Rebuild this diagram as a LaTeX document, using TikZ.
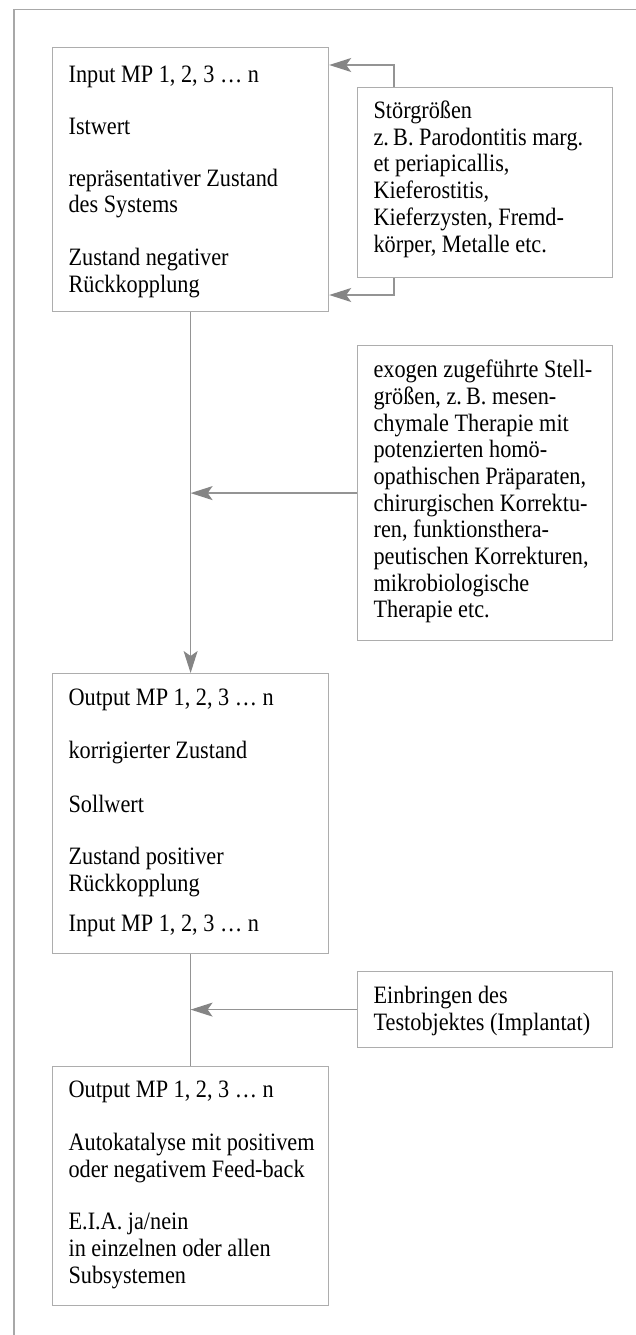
\documentclass[tikz,border=0pt]{standalone}
\usepackage{fontspec}
\setmainfont{Liberation Serif}[FakeStretch=0.89]
\usepackage{tikz}
\usetikzlibrary{arrows.meta,positioning,calc}
\definecolor{framegray}{gray}{0.66}
\definecolor{boxgray}{gray}{0.68}
\definecolor{arrgray}{gray}{0.58}
\definecolor{tipgray}{gray}{0.52}
\tikzset{
  every picture/.append style={font=\fontsize{25pt}{26.7pt}\selectfont},
  box/.style    = {draw=boxgray, line width=1.2pt, inner sep=0pt,
                   anchor=north west},
  conn/.style   = {draw=arrgray, line width=1.3pt},
  arr/.style    = {conn, -{Stealth[length=22pt, width=14pt, inset=5pt, color=tipgray]}},
  framel/.style = {draw=framegray, line width=1.2pt},
}
\newcommand{\boxtxt}[4]{%               % #1 = width, #2 = height, #3 = first baseline, #4 = lines
  \parbox[c][#2][t]{#1}{\hspace*{16pt}%
    \begin{tabular}[t]{@{}l@{}}\rule{0pt}{#3}#4\end{tabular}}}

\begin{document}
\begin{tikzpicture}[x=1pt,y=-1pt]
  \useasboundingbox (0,0) rectangle (636,1335);
  \draw[framel] (14,1335) -- (14,9.5) -- (636,9.5);
  % left column
  \node[box] (input) at (52,47) {\boxtxt{276pt}{264pt}{35pt}{%
    Input MP 1, 2, 3 … n\\[25pt]
    Istwert\\[25pt]
    repräsentativer Zustand\\
    des Systems\\[26pt]
    Zustand negativer\\
    Rückkopplung}};
  \node[box] (korr) at (52,673) {\boxtxt{276pt}{280pt}{32pt}{%
    Output MP 1, 2, 3 … n\\[26pt]
    korrigierter Zustand\\[27pt]
    Sollwert\\[26pt]
    Zustand positiver\\
    Rückkopplung\\[13pt]
    Input MP 1, 2, 3 … n}};
  \node[box] (auto) at (52,1066) {\boxtxt{276pt}{239pt}{31pt}{%
    Output MP 1, 2, 3 … n\\[26pt]
    Autokatalyse mit positivem\\
    oder negativem Feed-back\\[26pt]
    E.I.A. ja/nein\\
    in einzelnen oder allen\\
    Subsystemen}};
  % right column
  \node[box] (stoer) at (357,87) {\boxtxt{255pt}{190pt}{31pt}{%
    Störgrößen\\
    z.\,B. Parodontitis marg.\\
    et periapicallis,\\
    Kieferostitis,\\
    Kieferzysten, Fremd-\\
    körper, Metalle etc.}};
  \node[box] (exogen) at (357,345) {\boxtxt{255pt}{295pt}{32pt}{%
    exogen zugeführte Stell-\\
    größen, z.\,B. mesen-\\
    chymale Therapie mit\\
    potenzierten homö-\\
    opathischen Präparaten,\\
    chirurgischen Korrektu-\\
    ren, funktionsthera-\\
    peutischen Korrekturen,\\
    mikrobiologische\\
    Therapie etc.}};
  \node[box] (implant) at (357,971) {\boxtxt{255pt}{76pt}{32pt}{%
    Einbringen des\\
    Testobjektes (Implantat)}};
  % feedback loop
  \coordinate (fbup) at (394,65);
  \coordinate (fbdn) at (394,295);
  \draw[arr] (stoer.north -| fbup) -- (fbup) -- (input.east |- fbup);
  \draw[arr] (stoer.south -| fbup) -- (fbdn) -- (input.east |- fbdn);
  % main flow
  \draw[arr] (input.south) -- (korr.north);
  \draw[arr] (exogen.west) -- (exogen.west -| input.south);
  \draw[conn] (korr.south) -- (auto.north);
  \draw[arr] (implant.west) -- (implant.west -| korr.south);
\end{tikzpicture}
\end{document}
